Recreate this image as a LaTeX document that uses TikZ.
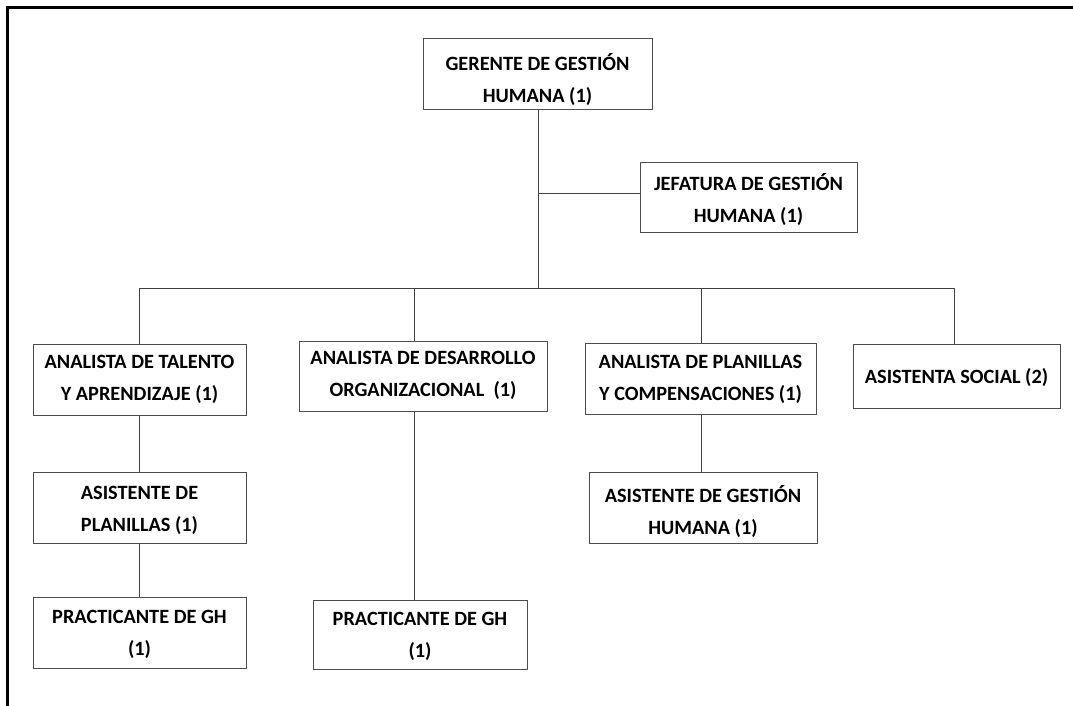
\documentclass[tikz,border=0pt]{standalone}
\usepackage{fontspec}
\setmainfont{Carlito}
\begin{document}
\begin{tikzpicture}[x=1pt,y=1pt,
  box/.style={draw=black!70,line width=1pt,fill=white,inner sep=0pt},
  txt/.style={inner sep=0pt,align=center,font=\bfseries\fontsize{20.3}{32}\selectfont},
  conn/.style={draw=black!75,line width=0.9pt}]
\useasboundingbox (0,0) rectangle (1073,-706);
\draw[line width=3pt] (7,-712) -- (7,-8) -- (1085,-8);
% boxes
\node[box,minimum width=229,minimum height=71,label={[txt,yshift=-5]center:GERENTE DE GESTIÓN\\HUMANA (1)}] (ger) at (537.5,-74.5) {};
\node[box,minimum width=217,minimum height=70,label={[txt,yshift=-3]center:JEFATURA DE GESTIÓN\\HUMANA (1)}] (jef) at (748.5,-197) {};
\node[box,minimum width=213,minimum height=71,label={[txt]center:ANALISTA DE TALENTO\\Y APRENDIZAJE (1)}] (tal) at (139.5,-379.5) {};
\node[box,minimum width=248,minimum height=70,label={[txt,yshift=1]center:ANALISTA DE DESARROLLO\\ORGANIZACIONAL\ \ (1)}] (des) at (423,-376) {};
\node[box,minimum width=231,minimum height=71,label={[txt,yshift=-1]center:ANALISTA DE PLANILLAS\\Y COMPENSACIONES (1)}] (pla) at (700.5,-378.5) {};
\node[box,minimum width=207,minimum height=64,label={[txt,yshift=-1]center:ASISTENTA SOCIAL (2)}] (soc) at (956.5,-376) {};
\node[box,minimum width=213,minimum height=71,label={[txt,yshift=-3]center:ASISTENTE DE\\PLANILLAS (1)}] (asp) at (139.5,-507.5) {};
\node[box,minimum width=228,minimum height=71,label={[txt,yshift=-4]center:ASISTENTE DE GESTIÓN\\HUMANA (1)}] (agh) at (703,-507.5) {};
\node[box,minimum width=213,minimum height=71,label={[txt,yshift=-2]center:PRACTICANTE DE GH\\(1)}] (pr1) at (139.5,-632.5) {};
\node[box,minimum width=214,minimum height=69,label={[txt,yshift=-2]center:PRACTICANTE DE GH\\(1)}] (pr2) at (420,-634.5) {};
% coordinates
\coordinate (ttop) at (538,-110);
\coordinate (tj) at (538,-193);
\coordinate (tbar) at (538,-288);
\coordinate (bl) at (139,-288);
\coordinate (bd) at (414,-288);
\coordinate (bp) at (701,-288);
\coordinate (br) at (954,-288);
% connectors
\draw[conn] (ger.south -| ttop) -- (tbar);
\draw[conn] (tj) -- (tj -| jef.west);
\draw[conn] (bl) -- (br);
\draw[conn] (bl) -- (bl |- tal.north);
\draw[conn] (bd) -- (bd |- des.north);
\draw[conn] (bp) -- (bp |- pla.north);
\draw[conn] (br) -- (br |- soc.north);
\draw[conn] (tal.south -| bl) -- (asp.north -| bl);
\draw[conn] (asp.south -| bl) -- (pr1.north -| bl);
\draw[conn] (des.south -| bd) -- (pr2.north -| bd);
\draw[conn] (pla.south -| bp) -- (agh.north -| bp);
\end{tikzpicture}
\end{document}
